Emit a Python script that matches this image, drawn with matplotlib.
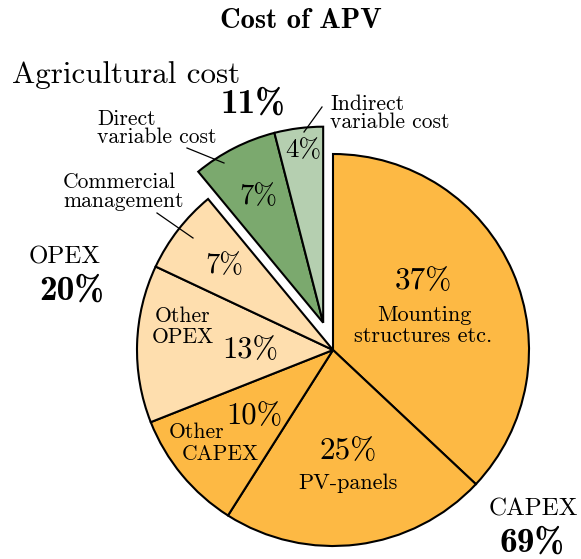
import numpy as np
import matplotlib.pyplot as plt

# slice data, clockwise from the top
shares = [37, 22, 10, 13, 7, 7, 4]
pct_labels = ["37%", "25%", "10%", "13%", "7%", "7%", "4%"]
slice_names = ["Mounting\nstructures etc.", "PV-panels", "Other\nCAPEX", "Other\nOPEX",
               "Commercial\nmanagement", "Direct\nvariable cost", "Indirect\nvariable cost"]
groups = ["CAPEX", "CAPEX", "CAPEX", "OPEX", "OPEX", "Agri", "Agri"]
colors = ["#fdb944", "#fdb944", "#fdb944", "#fedeae", "#fedeae", "#7ba96e", "#b5cfb0"]

group_names = ["CAPEX", "OPEX", "Agricultural cost"]
group_pcts = ["69%", "20%", "11%"]

W, H = 581, 559
cx, cy, R = 333, 350, 196
RM = "cmr10"
BF = "cmb10"

fig = plt.figure(figsize=(W / 100, H / 100), dpi=100)
ax = fig.add_axes([0, 0, 1, 1])

# y axis is flipped below, so counterclock=True draws clockwise on screen
wedges, _ = ax.pie(shares, colors=colors, startangle=-90, counterclock=True,
                   center=(cx, cy), radius=R,
                   wedgeprops=dict(edgecolor="black", linewidth=1.5))
ax.set_xlim(0, W)
ax.set_ylim(H, 0)
ax.set_aspect("equal")
ax.axis("off")

# pull the agricultural slices out along their common mid angle
agri = [i for i, g in enumerate(groups) if g == "Agri"]
total = sum(shares)
start = -90 + 360 * sum(shares[:agri[0]]) / total
end = -90 + 360 * sum(shares[:agri[-1] + 1]) / total
mid = np.deg2rad((start + end) / 2)
shift = 0.148 * R
for i in agri:
    wedges[i].set_center((cx + shift * np.cos(mid), cy + shift * np.sin(mid)))

def txt(x, y, s, size, font=RM, ha="center"):
    ax.text(x, y, s, fontsize=size, family=font, ha=ha, va="baseline")

# title
txt(301, 28, "Cost of APV", 20.5, BF)

# percentages inside slices
pct_pos = [(423, 289), (348, 459), (254, 424), (250, 358), (224, 273), (258, 204), (303, 157)]
pct_size = [22.5, 22.5, 22, 22, 20.5, 20.5, 19.5]
for (x, y), s, fs in zip(pct_pos, pct_labels, pct_size):
    txt(x, y, s, fs)

# names inside slices
mount, pv, capex_o, opex_o = [n.split("\n") for n in slice_names[:4]]
txt(424, 321, mount[0], 16)
txt(423, 342, mount[1], 16)
txt(348, 489, pv[0], 16)
txt(197, 438, capex_o[0], 15.5)
txt(220, 460, capex_o[1], 15.5)
txt(183, 322, opex_o[0], 15.5)
txt(183, 343, opex_o[1], 15.5)

# names outside with leader lines
comm, direct, indirect = [n.split("\n") for n in slice_names[4:]]
txt(63, 188, comm[0], 15.5, ha="left")
txt(63, 207, comm[1], 15.5, ha="left")
ax.plot([157, 193], [213, 238], color="black", lw=0.9)
txt(97, 125, direct[0], 15.5, ha="left")
txt(97, 143, direct[1], 15.5, ha="left")
ax.plot([187, 224], [148, 163], color="black", lw=0.9)
txt(330, 110, indirect[0], 15.5, ha="left")
txt(330, 128, indirect[1], 15.5, ha="left")
ax.plot([322, 304], [107, 132], color="black", lw=0.9)

# group totals
txt(533, 515, group_names[0], 18)
txt(532, 552, group_pcts[0], 25.5, BF)
txt(65, 263, group_names[1], 18)
txt(72, 300, group_pcts[1], 25.5, BF)
txt(12, 83, group_names[2], 22.3, ha="left")
txt(253, 113, group_pcts[2], 25.5, BF)

fig.savefig("out.png", dpi=100)
